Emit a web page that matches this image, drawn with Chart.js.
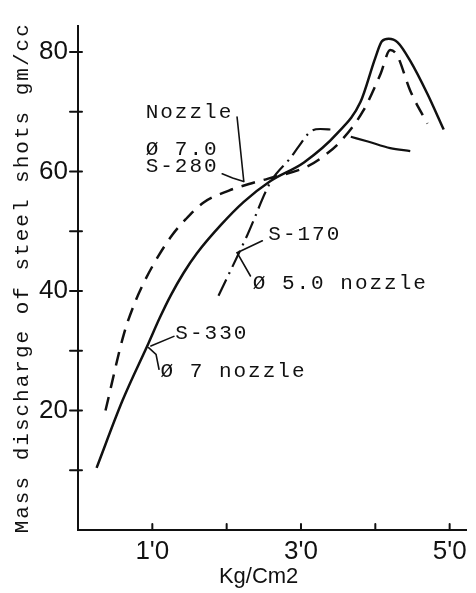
<!DOCTYPE html>
<html>
<head>
<meta charset="utf-8">
<script src="https://cdn.jsdelivr.net/npm/chart.js@4/dist/chart.umd.min.js"></script>
<style>
  html, body { margin: 0; padding: 0; background: #fff; }
  #wrap { width: 476px; height: 593px; }
</style>
</head>
<body>
<div id="wrap"><canvas id="myChart" width="476" height="593"></canvas></div>
<script>
// S-330, Ø 7 nozzle (solid)
const s330X = [0.25, 0.6, 0.95, 1.1, 1.25, 1.42, 1.6, 1.92, 2.23, 2.59, 3.04, 3.49, 3.8, 4.0, 4.09, 4.18, 4.3, 4.47, 4.7, 4.92];
const s330Y = [10.4, 21.7, 31.3, 35.5, 39.3, 43.0, 46.3, 51.0, 54.9, 58.4, 61.5, 66.4, 71.6, 79.0, 81.8, 82.2, 81.6, 78.5, 73.0, 67.0];

// Nozzle Ø 7.0, S-280 (dashed)
const s280X = [0.37, 0.62, 0.78, 0.91, 1.07, 1.27, 1.45, 1.69, 2.03, 2.30, 2.56, 3.08, 3.31, 3.53, 3.84, 4.07, 4.2, 4.29, 4.47, 4.7];
const s280Y = [20.0, 32.9, 38.5, 42.0, 45.6, 49.4, 52.0, 54.8, 56.8, 57.9, 58.8, 60.8, 62.6, 65.0, 70.2, 76.3, 80.3, 79.5, 73.5, 68.0];

// S-170, Ø 5.0 nozzle (dash-dot, solid tail after the gap)
const s170X = [1.89, 2.28, 2.59, 2.86, 2.97, 3.13, 3.26, 3.42, 3.55, 3.67, 3.9, 4.2, 4.47];
const s170Y = [39.2, 49.4, 58.2, 62.3, 64.2, 66.7, 67.1, 67.0, null, 65.8, 65.0, 63.9, 63.4];

// axis ticks
const xTickMarks = [1, 2, 3, 4, 5];
const xTickValues = [1, 3, 5];
const xTickLabels = ["1'0", "3'0", "5'0"];
const yTickMarks = [10, 20, 30, 40, 50, 60, 70, 80];
const yTickLabels = [20, 40, 60, 80];

// labels written on the plot (data coordinates of the left/middle of the text)
const noteTexts = ['Nozzle', 'Ø 7.0', 'S-280', 'S-170', 'Ø 5.0 nozzle', 'S-330', 'Ø 7 nozzle'];
const noteX = [0.91, 0.91, 0.91, 2.56, 2.35, 1.31, 1.11];
const noteY = [69.9, 63.7, 60.9, 49.4, 41.3, 32.9, 26.6];

// leader lines from labels to curves
const pointers = [
  [[2.14, 69.1], [2.23, 58.4]],
  [[1.94, 59.6], [2.08, 58.9], [2.23, 58.3]],
  [[2.48, 48.4], [2.14, 46.4]],
  [[2.32, 42.5], [2.14, 46.4]],
  [[1.29, 32.4], [0.98, 30.8]],
  [[0.95, 30.5], [1.05, 29.4], [1.09, 26.9]]
];

const xTitle = 'Kg/Cm2';
const yTitle = 'Mass discharge of steel shots gm/cc';

const ink = '#111';
const monoFont = '"Liberation Mono", "DejaVu Sans Mono", monospace';

function pts(xs, ys) {
  return xs.map((v, i) => ({ x: v, y: ys[i] }));
}

const overlay = {
  id: 'overlay',
  afterDatasetsDraw(chart) {
    const { ctx } = chart;
    const x = chart.scales.x, y = chart.scales.y;
    ctx.save();
    ctx.strokeStyle = ink;
    ctx.fillStyle = ink;
    ctx.lineWidth = 2;
    ctx.lineCap = 'round';

    // tick marks
    ctx.beginPath();
    yTickMarks.forEach(v => {
      const py = y.getPixelForValue(v);
      ctx.moveTo(x.left - 8, py);
      ctx.lineTo(x.left + 4, py);
    });
    xTickMarks.forEach(v => {
      const px = x.getPixelForValue(v);
      ctx.moveTo(px, y.bottom);
      ctx.lineTo(px, y.bottom - 6);
    });
    ctx.stroke();

    // leader lines
    ctx.lineWidth = 1.6;
    pointers.forEach(p => {
      ctx.beginPath();
      p.forEach((q, i) => {
        const px = x.getPixelForValue(q[0]), py = y.getPixelForValue(q[1]);
        if (i === 0) ctx.moveTo(px, py); else ctx.lineTo(px, py);
      });
      ctx.stroke();
    });

    // notes
    ctx.font = '21px ' + monoFont;
    if ('letterSpacing' in ctx) ctx.letterSpacing = '2px';
    ctx.textAlign = 'left';
    ctx.textBaseline = 'middle';
    noteTexts.forEach((t, i) => {
      ctx.fillText(t, x.getPixelForValue(noteX[i]), y.getPixelForValue(noteY[i]));
    });

    // y title
    ctx.save();
    ctx.translate(22, (y.top + y.bottom) / 2);
    ctx.rotate(-Math.PI / 2);
    ctx.textAlign = 'center';
    ctx.fillText(yTitle, 0, 0);
    ctx.restore();

    // x title
    if ('letterSpacing' in ctx) ctx.letterSpacing = '0px';
    ctx.font = '22px "Liberation Sans", sans-serif';
    ctx.textAlign = 'center';
    ctx.fillText(xTitle, x.getPixelForValue(2.43), y.bottom + 47);
    ctx.restore();
  }
};

new Chart(document.getElementById('myChart'), {
  type: 'line',
  data: {
    datasets: [
      {
        label: 'S-330',
        data: pts(s330X, s330Y),
        borderColor: ink,
        borderWidth: 2.5,
        cubicInterpolationMode: 'monotone'
      },
      {
        label: 'S-280',
        data: pts(s280X, s280Y),
        borderColor: ink,
        borderWidth: 2.5,
        borderDash: [14, 9],
        cubicInterpolationMode: 'monotone'
      },
      {
        label: 'S-170',
        data: pts(s170X, s170Y),
        borderColor: ink,
        borderWidth: 2.2,
        spanGaps: false,
        cubicInterpolationMode: 'monotone',
        segment: {
          borderDash: c => c.p0.parsed.x >= 3.6 ? [] : [18, 6, 2, 6]
        }
      }
    ]
  },
  options: {
    responsive: false,
    animation: false,
    layout: { padding: { top: 17, right: 10, left: 0, bottom: 0 } },
    elements: { point: { radius: 0 } },
    plugins: { legend: { display: false }, tooltip: { enabled: false } },
    scales: {
      x: {
        type: 'linear',
        min: 0,
        max: 5.22,
        afterFit: s => { s.height = 63; },
        afterBuildTicks: s => { s.ticks = xTickValues.map(v => ({ value: v })); },
        grid: { display: false, drawTicks: false },
        border: { color: ink, width: 2 },
        ticks: {
          autoSkip: false,
          maxRotation: 0,
          padding: 6,
          color: ink,
          font: { family: '"Liberation Sans", sans-serif', size: 26 },
          callback: v => xTickLabels[xTickValues.indexOf(v)]
        }
      },
      y: {
        min: 0,
        max: 84.4,
        afterFit: s => { s.width = 78; },
        afterBuildTicks: s => { s.ticks = yTickLabels.map(v => ({ value: v })); },
        grid: { display: false, drawTicks: false },
        border: { color: ink, width: 2 },
        ticks: {
          padding: 10,
          color: ink,
          font: { family: '"Liberation Sans", sans-serif', size: 26 },
          callback: v => String(v)
        }
      }
    }
  },
  plugins: [overlay]
});
</script>
</body>
</html>
